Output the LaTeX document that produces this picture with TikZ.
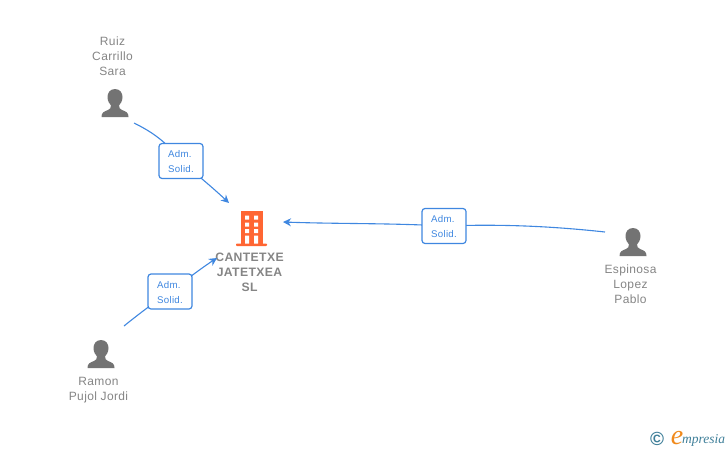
\documentclass[tikz,border=0pt]{standalone}
\usepackage{fontspec}
\setmainfont{Liberation Sans}[LetterSpace=3]
\newfontfamily\logofont{Liberation Serif}
\usetikzlibrary{arrows.meta}
\definecolor{linkblue}{HTML}{3F87E0}
\definecolor{namegray}{HTML}{858585}
\definecolor{icongray}{HTML}{737373}
\definecolor{buildorange}{HTML}{FF6633}
\definecolor{logoteal}{HTML}{3F7F99}
\definecolor{logoorange}{HTML}{F08A1D}
\newcommand{\rolelabel}{\rule{0pt}{9pt}Adm.\\Solid.\hspace{2pt}}
\tikzset{
  x=1pt,y=-1pt,
  link/.style={draw=linkblue,line width=1.1pt,-{Stealth[length=8pt,width=8pt]}},
  rolebox/.style={draw=linkblue,line width=1.2pt,fill=white,rounded corners=3pt,minimum width=44pt,minimum height=35pt,inner sep=0pt,outer sep=0pt,text=linkblue,font=\fontsize{9.7}{15}\selectfont,align=left},
  personname/.style={text=namegray,font=\fontsize{12}{15}\selectfont,align=center,inner sep=0pt},
  firmname/.style={text=namegray,font=\fontsize{12.2}{15}\selectfont\bfseries,align=center,inner sep=0pt},
  anchorbox/.style={inner sep=0pt,minimum size=1pt},
  person/.pic={
    \fill[icongray] (0,-14) .. controls (-5,-14) and (-7.5,-10) .. (-7.5,-6)
      .. controls (-7.5,-2) and (-5.5,1) .. (-4,2.5)
      .. controls (-4,5) and (-5,6) .. (-7,7)
      .. controls (-11,8.5) and (-13.5,9.5) .. (-13.5,14)
      -- (13.5,14)
      .. controls (13.5,9.5) and (11,8.5) .. (7,7)
      .. controls (5,6) and (4,5) .. (4,2.5)
      .. controls (5.5,1) and (7.5,-2) .. (7.5,-6)
      .. controls (7.5,-10) and (5,-14) .. (0,-14) -- cycle;
  },
  building/.pic={
    \fill[buildorange] (-11,-17) rectangle (11,16);
    \fill[buildorange,rounded corners=0.8pt] (-15.5,15.5) rectangle (15.5,18);
    \fill[white] (-6.5,-12.5) rectangle (-2.5,-8.5) (2.5,-12.5) rectangle (6.5,-8.5)
      (-6.5,-5.5) rectangle (-2.5,-1.5) (2.5,-5.5) rectangle (6.5,-1.5)
      (-6.5,1) rectangle (-2.5,5) (2.5,1) rectangle (6.5,5)
      (-6.5,7.5) rectangle (-2.5,15.5) (2.5,7.5) rectangle (6.5,15.5);
  }
}
\begin{document}
\begin{tikzpicture}
\useasboundingbox (0,0) rectangle (728,450);
% icons
\node[anchorbox] (ruiz) at (115,103) {};
\pic at (ruiz) {person};
\node[anchorbox] (ramon) at (101,354) {};
\pic at (ramon) {person};
\node[anchorbox] (espinosa) at (633,242) {};
\pic at (espinosa) {person};
\node[anchorbox] (firm) at (251.5,228) {};
\pic at (firm) {building};
% names
\node[personname] (ruizname) at (112.5,56) {Ruiz\\Carrillo\\Sara};
\node[personname] (ramonname) at (98.5,390) {Ramon\\Pujol Jordi};
\node[personname] (espinosaname) at (630.5,284) {Espinosa\\Lopez\\Pablo};
\node[firmname] (firmname) at (249.5,272) {CANTETXE\\JATETXEA\\SL};
% connector ends
\coordinate (ruizstart) at (134,123);
\coordinate (ruizend) at (229,203);
\coordinate (ramonstart) at (124,326);
\coordinate (ramonend) at (217,258);
\coordinate (espinosastart) at (605,232);
\coordinate (espinosaend) at (283,222);
\coordinate (boxa) at (181,161);
\coordinate (boxb) at (170,291.5);
\coordinate (boxc) at (444,226);
% connectors
\draw[link] (ruizstart) .. controls (150,131) and (165,140) .. (boxa) .. controls (196,174) and (212,187) .. (ruizend);
\draw[link] (ramonstart) .. controls (140,313) and (155,302) .. (boxb) .. controls (185,281) and (200,269) .. (ramonend);
\draw[link] (espinosastart) .. controls (550,226) and (500,224) .. (boxc) .. controls (390,223) and (340,224) .. (espinosaend);
% labels
\node[rolebox] (rolea) at (boxa) {\rolelabel};
\node[rolebox] (roleb) at (boxb) {\rolelabel};
\node[rolebox] (rolec) at (boxc) {\rolelabel};
% logo
\node[text=logoteal,inner sep=0pt,font=\fontsize{19}{19}\selectfont\bfseries] (copyr) at (657,439) {©};
\node[text=logoorange,inner sep=0pt,font=\logofont\itshape\fontsize{28}{28}\selectfont] (logoe) at (677,438) {e};
\node[text=logoteal,inner sep=0pt,anchor=base west,font=\logofont\itshape\fontsize{13.5}{14}\selectfont] (logotext) at (682,443) {mpresia};
\end{tikzpicture}
\end{document}
